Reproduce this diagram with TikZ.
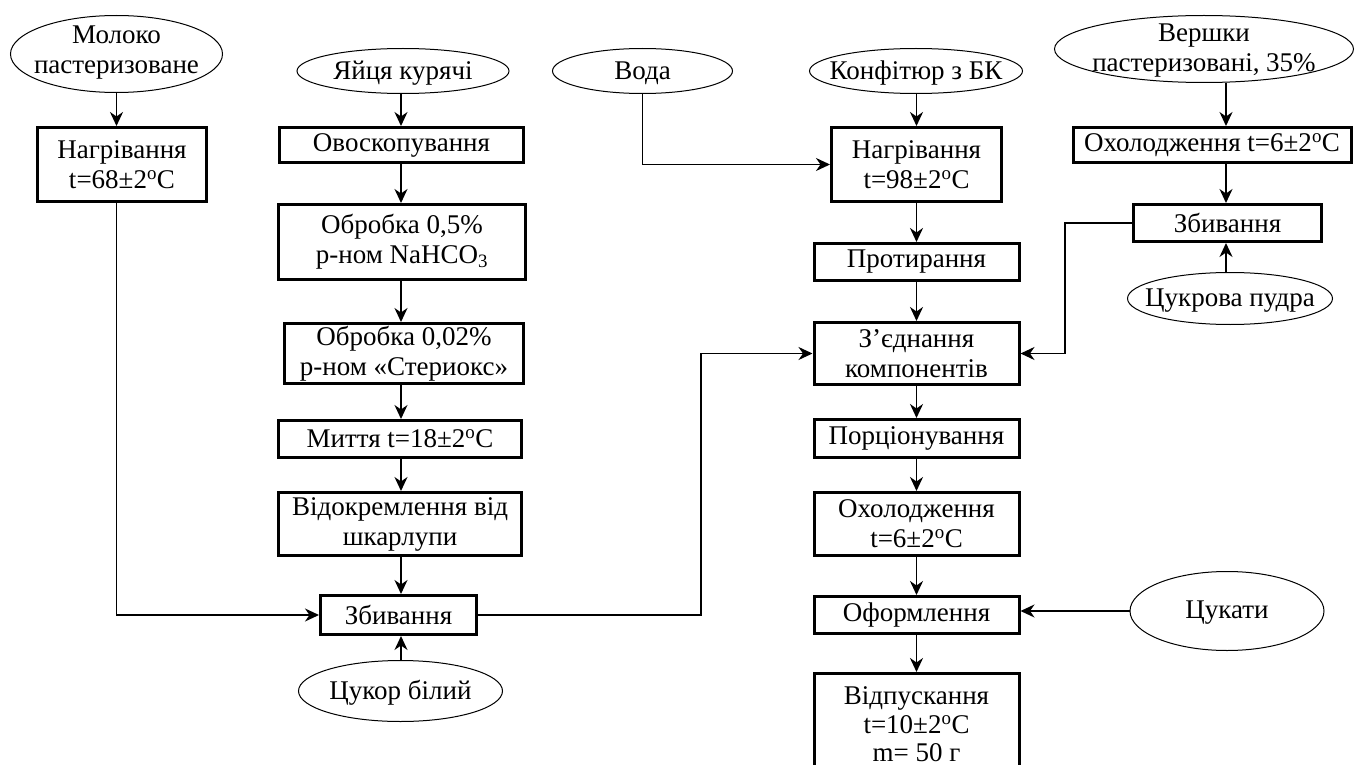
\documentclass[tikz,border=0pt]{standalone}
\usepackage{fontspec}
\setmainfont{Liberation Serif}
\usetikzlibrary{shapes.geometric,arrows.meta,calc}
\newcommand{\dg}{\textsuperscript{o}}
\begin{document}
\begin{tikzpicture}[x=1pt,y=-1pt,
  every node/.style={font=\fontsize{27}{30}\selectfont},
  box/.style={draw, line width=3pt, rectangle, inner sep=0pt, align=center},
  ell/.style={draw, line width=1pt, ellipse, inner sep=0pt},
  lab/.style={align=center},
  arr/.style={line width=1.8pt, -{Stealth[length=14pt,width=13pt,inset=4.5pt]}},
  ln/.style={line width=1.8pt}]
\path[use as bounding box] (0,0) rectangle (1355,765);

% column x references
\coordinate (c2) at (401,0);
\coordinate (c3) at (916.5,0);
\coordinate (c4) at (1226,0);
\coordinate (k1) at (701,0);
\coordinate (k2) at (1065,0);

% ---------- column 1 ----------
\node[ell, minimum width=212pt, minimum height=77pt,
  label={[lab,yshift=1pt]center:{Молоко\\пастеризоване}}] (milk) at (116.5,54) {};
\node[box, minimum width=169pt, minimum height=74pt] (heat1) at (122,164.5)
  {Нагрівання\\t=68±2\dg C};

% ---------- column 2 ----------
\node[ell, minimum width=212pt, minimum height=45pt,
  label={[lab,yshift=-2pt]center:{Яйця курячі}}] (eggs) at (403,71) {};
\node[box, minimum width=244pt, minimum height=35pt] (ovo) at (401.5,145) {Овоскопування};
\node[box, minimum width=247pt, minimum height=75pt] (tr1) at (402,242)
  {Обробка 0,5\%\\р-ном NaHCO\textsubscript{3}};
\node[box, minimum width=239pt, minimum height=60pt] (tr2) at (404,353.5)
  {Обробка 0,02\%\\р-ном «Стериокс»};
\node[box, minimum width=243pt, minimum height=37pt] (wash) at (400,439) {Миття t=18±2\dg C};
\node[box, minimum width=243pt, minimum height=63pt] (sep) at (400,524)
  {Відокремлення від\\шкарлупи};
\node[box, minimum width=156pt, minimum height=39pt] (whip1) at (398.5,615) {Збивання};
\node[ell, minimum width=204pt, minimum height=61pt,
  label={[lab,yshift=-2pt]center:{Цукор білий}}] (sugar) at (400.5,691) {};

% ---------- column 3 ----------
\node[ell, minimum width=180pt, minimum height=45pt,
  label={[lab,yshift=-2pt]center:{Вода}}] (water) at (642.5,71) {};
\node[ell, minimum width=213pt, minimum height=45pt,
  label={[lab,yshift=-2pt]center:{Конфітюр з БК}}] (conf) at (916,71) {};
\node[box, minimum width=170pt, minimum height=74pt] (heat2) at (916.5,164.5)
  {Нагрівання\\t=98±2\dg C};
\node[box, minimum width=205pt, minimum height=37pt] (rub) at (916.5,262) {Протирання};
\node[box, minimum width=205pt, minimum height=62pt] (join) at (916.5,353.5)
  {З’єднання\\компонентів};
\node[box, minimum width=205pt, minimum height=38pt] (port) at (916.5,438.5) {Порціонування};
\node[box, minimum width=205pt, minimum height=63pt] (cool2) at (916.5,524)
  {Охолодження\\t=6±2\dg C};
\node[box, minimum width=205pt, minimum height=37pt] (decor) at (916.5,615) {Оформлення};
\node[box, minimum width=205pt, minimum height=102pt,
  font=\fontsize{27}{28.5}\selectfont] (rel) at (916.5,724.5)
  {Відпускання\\t=10±2\dg C\\m= 50 г};

% ---------- right column ----------
\node[ell, minimum width=299pt, minimum height=67pt,
  label={[lab,yshift=-2pt]center:{Вершки\\пастеризовані, 35\%}}] (cream) at (1204,49) {};
\node[box, minimum width=278pt, minimum height=35pt] (cool1) at (1212,145)
  {Охолодження t=6±2\dg C};
\node[box, minimum width=188pt, minimum height=37pt] (whip2) at (1227.5,223) {Збивання};
\node[ell, minimum width=205pt, minimum height=52pt,
  label={[lab,yshift=-2pt]center:{Цукрова пудра}}] (powder) at (1230,298.5) {};
\node[ell, minimum width=194pt, minimum height=79pt,
  label={[lab,yshift=-2pt]center:{Цукати}}] (cand) at (1227,611) {};

% ---------- connectors ----------
\draw[arr] (milk.south) -- (milk.south |- heat1.north);
\draw[arr] (milk.south |- heat1.south) |- (whip1.west);

\draw[arr] (eggs.south -| c2) -- (ovo.north -| c2);
\draw[arr] (ovo.south -| c2) -- (tr1.north -| c2);
\draw[arr] (tr1.south -| c2) -- (tr2.north -| c2);
\draw[arr] (tr2.south -| c2) -- (wash.north -| c2);
\draw[arr] (wash.south -| c2) -- (sep.north -| c2);
\draw[arr] (sep.south -| c2) -- (whip1.north -| c2);
\draw[arr] (sugar.north -| c2) -- (whip1.south -| c2);
\draw[arr] (whip1.east) -- (whip1.east -| k1) |- (join.west);

\draw[arr] (water.south) |- (heat2.west);
\draw[arr] (conf.south -| c3) -- (heat2.north -| c3);
\draw[arr] (heat2.south -| c3) -- (rub.north -| c3);
\draw[arr] (rub.south -| c3) -- (join.north -| c3);
\draw[arr] (join.south -| c3) -- (port.north -| c3);
\draw[arr] (port.south -| c3) -- (cool2.north -| c3);
\draw[arr] (cool2.south -| c3) -- (decor.north -| c3);
\draw[arr] (decor.south -| c3) -- (rel.north -| c3);

\draw[arr] (cream.south -| c4) -- (cool1.north -| c4);
\draw[arr] (cool1.south -| c4) -- (whip2.north -| c4);
\draw[arr] (powder.north -| c4) -- (whip2.south -| c4);
\draw[arr] (whip2.west) -- (whip2.west -| k2) |- (join.east);
\draw[arr] (cand.west) -- (cand.west -| decor.east);
\end{tikzpicture}
\end{document}
